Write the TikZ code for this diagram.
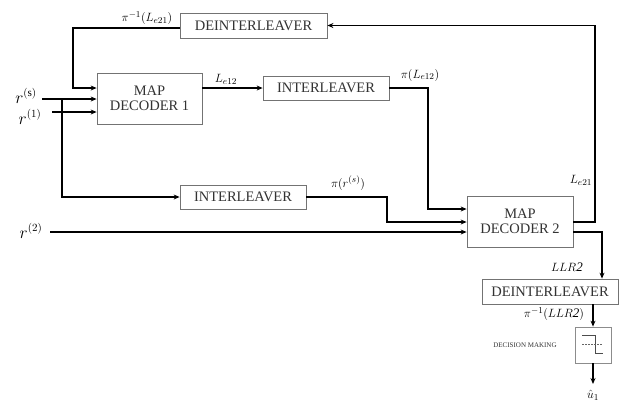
\documentclass[tikz,border=0pt]{standalone}
\usepackage{amsmath}
\usepackage{fontspec}
\setmainfont{Liberation Serif}
\usetikzlibrary{arrows.meta}
\begin{document}
\begin{tikzpicture}[x=1pt,y=-1pt,
  blk/.style={draw=black!55,line width=0.8pt,fill=white,inner sep=0pt,align=center,
    font=\fontsize{14.5}{15.5}\selectfont,text=black!80},
  conn/.style={line width=1.6pt,line join=miter},
  arr/.style={conn,-{Stealth[length=6pt,width=5pt]}},
  lbl/.style={inner sep=0pt,font=\fontsize{13}{14}\selectfont},
  rlbl/.style={inner sep=0pt,font=\fontsize{16}{17}\selectfont}]
\useasboundingbox (0,0) rectangle (634,405);
% blocks
\node[blk,minimum width=147pt,minimum height=25pt] (dtop) at (253.5,25.5) {DEINTERLEAVER};
\node[blk,minimum width=105pt,minimum height=51pt] (dec1) at (149.5,98.5) {MAP\\DECODER 1};
\node[blk,minimum width=126pt,minimum height=24pt] (int1) at (326,88) {INTERLEAVER};
\node[blk,minimum width=126pt,minimum height=24pt] (int2) at (243,197) {INTERLEAVER};
\node[blk,minimum width=106pt,minimum height=51pt] (dec2) at (520,221.5) {MAP\\DECODER 2};
\node[blk,minimum width=136pt,minimum height=25pt] (dbot) at (550,291.5) {DEINTERLEAVER};
\node[draw=black!45,line width=0.8pt,minimum width=36pt,minimum height=36pt,inner sep=0pt] (dm) at (593,345) {};
% decision symbol
\draw[line width=0.7pt,black!70] (582,335) -- (595,335) -- (595,353) -- (603,353);
\draw[line width=0.5pt,black!60,dash pattern=on 1.5pt off 1.5pt] (582,344) -- (603,344);
% coordinates
\coordinate (rs) at (42,99);
\coordinate (r1) at (52,112);
\coordinate (r2) at (50,232);
\coordinate (br) at (62,99);
\coordinate (fb) at (73,88);
\coordinate (c1) at (428,88);
\coordinate (c2) at (387,197);
\coordinate (c3) at (595,222);
\coordinate (c4) at (602,232);
\coordinate (uout) at (593,384);
% connectors
\draw[arr] (dtop.west |- 0,28) -| (fb) -- (fb -| dec1.west);
\draw[arr] (rs) -- (rs -| dec1.west);
\draw[arr] (r1) -- (r1 -| dec1.west);
\draw[arr] (br) |- (int2.west);
\draw[arr] (int1.west -| dec1.east) -- (int1.west);
\draw[arr] (int1.east) -| (c1) |- (dec2.west |- 0,209);
\draw[arr] (int2.east) -| (c2) |- (dec2.west |- 0,222);
\draw[arr] (r2) -- (r2 -| dec2.west);
\draw[arr] (dec2.east |- c3) -- (c3) |- (dtop.east);
\draw[arr] (dec2.east |- c4) -| (c4 |- dbot.north);
\draw[arr] (dbot.south -| dm.north) -- (dm.north);
\draw[arr] (dm.south) -- (uout);
% labels
\node[lbl] (l1) at (147,18) {$\pi^{-1}(L_{e21})$};
\node[lbl] (l2) at (226,79) {$L_{e12}$};
\node[lbl] (l3) at (420,75) {$\pi(L_{e12})$};
\node[lbl] (l4) at (348,183) {$\pi(r^{(s)})$};
\node[lbl] (l5) at (581,180) {$L_{e21}$};
\node[lbl] (l6) at (567,267) {$LLR\mathit{2}$};
\node[lbl] (l7) at (554,314) {$\pi^{-1}(LLR\mathit{2})$};
\node[inner sep=0pt,font=\fontsize{7}{8}\selectfont,text=black!80] (l8) at (525,345) {DECISION MAKING};
\node[lbl] (l9) at (593,395) {$\hat{u}_1$};
\node[rlbl] (rsl) at (26,96) {$r^{(\mathrm{s})}$};
\node[rlbl] (r1l) at (30,117) {$r^{(1)}$};
\node[rlbl] (r2l) at (31,231) {$r^{(2)}$};
\end{tikzpicture}
\end{document}
